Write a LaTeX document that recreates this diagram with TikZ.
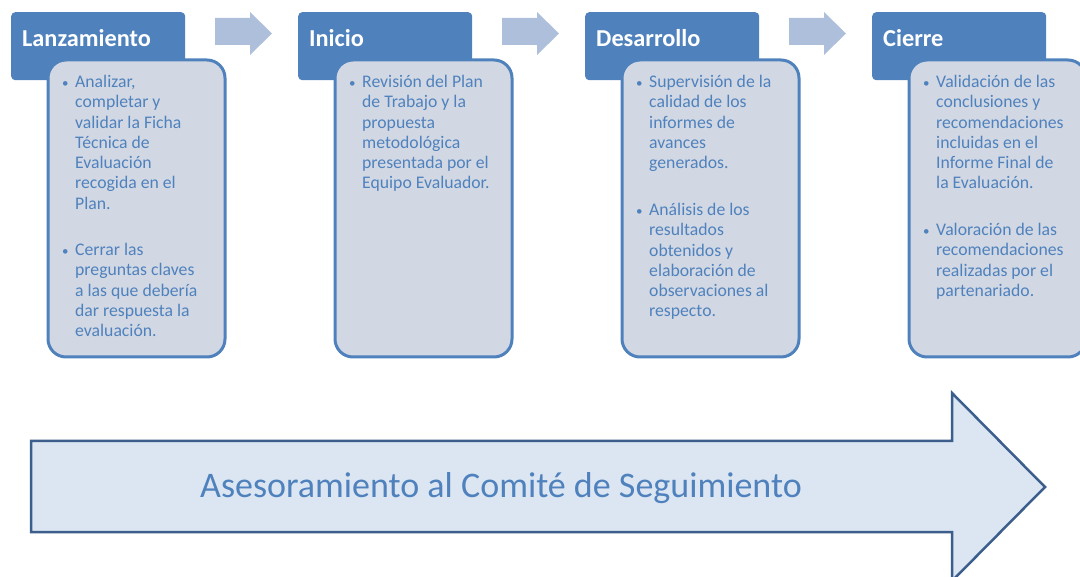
\documentclass[tikz,border=0pt]{standalone}
\usepackage{fontspec}
\setmainfont{Carlito}
\definecolor{hdr}{HTML}{4F81BD}
\definecolor{bodyfill}{HTML}{D1D8E3}
\definecolor{smallarr}{HTML}{AEBFDB}
\definecolor{bigfill}{HTML}{DCE6F2}
\definecolor{bigline}{HTML}{3B5E8C}
\definecolor{txt}{HTML}{4F81BD}
\tikzset{
  hdrbox/.style={fill=hdr, draw=none, rounded corners=4pt, minimum width=174pt, minimum height=68pt, anchor=north west, inner sep=0pt},
  hdrtext/.style={font=\fontsize{24.3}{28}\selectfont\bfseries, text=white, anchor=west, inner sep=0pt},
  bodybox/.style={fill=bodyfill, draw=hdr, line width=3pt, rounded corners=18pt, minimum width=177pt, minimum height=297pt, anchor=north west, inner sep=0pt},
  bodytext/.style={font=\fontsize{17.7}{20.3}\selectfont, text=txt, anchor=base west, inner sep=0pt},
  bul/.style={font=\fontsize{13}{15}\selectfont, text=txt, anchor=base west, inner sep=0pt},
  smallarrow/.style={fill=smallarr, draw=none},
  bigarrow/.style={fill=bigfill, draw=bigline, line width=2.5pt, line join=miter},
}
\newcommand{\lines}[1]{\begin{tabular}[t]{@{}l@{}}#1\end{tabular}}
\begin{document}
\begin{tikzpicture}[x=1pt,y=-1pt]
\useasboundingbox (0,0) rectangle (1080,577);
\clip (0,0) rectangle (1080,577);

% big arrow
\draw[bigarrow] (31,441) -- (952,441) -- (952,393) -- (1045,487) -- (952,581) -- (952,532) -- (31,532) -- cycle;
\node[font=\fontsize{36}{42}\selectfont, text=txt, inner sep=0pt] (asesor) at (501,488) {Asesoramiento al Comité de Seguimiento};

% small arrows
\foreach \k in {0,1,2} {
  \begin{scope}[xshift=287*\k pt]
    \fill[smallarrow] (215,18) -- (250,18) -- (250,12) -- (272,33.5) -- (250,55) -- (250,45) -- (215,45) -- cycle;
  \end{scope}
}

% column 1
\node[hdrbox] (h1) at (11,12) {};
\node[hdrtext] (h1t) at (22,38) {Lanzamiento};
\node[bodybox] (b1) at (46.5,58.5) {};
\node[bul] (b1p1) at (62,87.5) {•};
\node[bodytext] (b1t1) at (75,87.5) {\lines{Analizar,\\completar y\\validar la Ficha\\Técnica de\\Evaluación\\recogida en el\\Plan.}};
\node[bul] (b1p2) at (62,255.5) {•};
\node[bodytext] (b1t2) at (75,255.5) {\lines{Cerrar las\\preguntas claves\\a las que debería\\dar respuesta la\\evaluación.}};

% column 2
\node[hdrbox] (h2) at (298,12) {};
\node[hdrtext] (h2t) at (309,38) {Inicio};
\node[bodybox] (b2) at (333.5,58.5) {};
\node[bul] (b2p1) at (349,87.5) {•};
\node[bodytext] (b2t1) at (362,87.5) {\lines{Revisión del Plan\\de Trabajo y la\\propuesta\\metodológica\\presentada por el\\Equipo Evaluador.}};

% column 3
\node[hdrbox] (h3) at (585,12) {};
\node[hdrtext] (h3t) at (596,38) {Desarrollo};
\node[bodybox] (b3) at (620.5,58.5) {};
\node[bul] (b3p1) at (636,87.5) {•};
\node[bodytext] (b3t1) at (649,87.5) {\lines{Supervisión de la\\calidad de los\\informes de\\avances\\generados.}};
\node[bul] (b3p2) at (636,215.5) {•};
\node[bodytext] (b3t2) at (649,215.5) {\lines{Análisis de los\\resultados\\obtenidos y\\elaboración de\\observaciones al\\respecto.}};

% column 4
\node[hdrbox] (h4) at (872,12) {};
\node[hdrtext] (h4t) at (883,38) {Cierre};
\node[bodybox] (b4) at (907.5,58.5) {};
\node[bul] (b4p1) at (923,87.5) {•};
\node[bodytext] (b4t1) at (936,87.5) {\lines{Validación de las\\conclusiones y\\recomendaciones\\incluidas en el\\Informe Final de\\la Evaluación.}};
\node[bul] (b4p2) at (923,235.5) {•};
\node[bodytext] (b4t2) at (936,235.5) {\lines{Valoración de las\\recomendaciones\\realizadas por el\\partenariado.}};
\end{tikzpicture}
\end{document}
